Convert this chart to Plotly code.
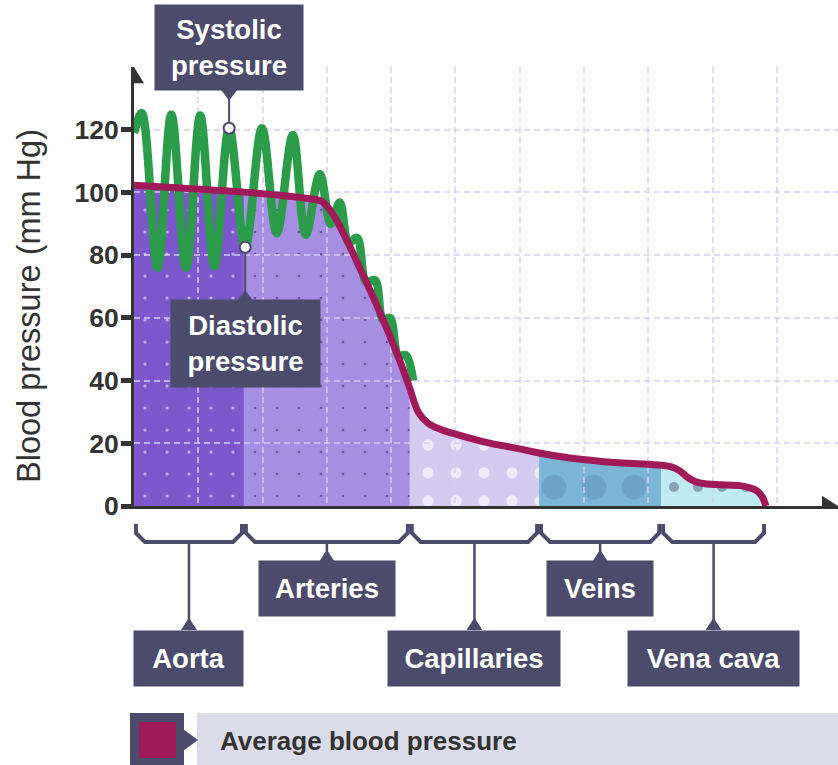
import plotly.graph_objects as go

W = 838
REF_H = 765          # layout is laid out on a 765 px tall grid
H = 780              # figure height
SY = H / REF_H       # vertical pixel scale for pixel-sized items
FONT = "Liberation Sans, Arial, Helvetica, sans-serif"
INK = "#333333"
BOX = "#4d4b6c"
GRID = "rgba(212,205,242,0.75)"

# ---- data -------------------------------------------------------------
y_ticks = [0, 20, 40, 60, 80, 100, 120]
x_grid = [1, 2, 3, 4, 5, 6, 7, 8, 9, 10]
x_max = 10.95
y_max = 140

# average blood pressure (mm Hg) along the circulation, x in grid units
avg_x = [0.00, 0.72, 1.71, 2.27, 2.74, 2.92, 3.08, 3.28, 3.51, 3.83, 4.14, 4.29,
         4.42, 4.57, 4.76, 4.99, 5.38, 5.69, 6.00, 6.30, 6.78, 7.24, 7.71, 8.20,
         8.37, 8.49, 8.62, 8.74, 8.88, 9.11, 9.42, 9.58, 9.69, 9.77, 9.83]
avg_y = [102.3, 101.4, 100.1, 99.1, 98.0, 97.2, 93.5, 86.0, 76.0, 61.5, 46.0, 37.5,
         30.0, 26.5, 24.5, 23.0, 20.8, 19.4, 18.2, 16.9, 15.3, 14.3, 13.6, 13.0,
         12.4, 11.2, 9.0, 7.7, 7.1, 6.8, 6.5, 5.8, 4.8, 3.0, 0.0]

# pulsing pressure: alternating systolic peaks and diastolic troughs
pulse_x = [0.00, 0.12, 0.365, 0.58, 0.81, 1.03, 1.25, 1.48, 1.73, 1.99, 2.22, 2.47,
           2.67, 2.89, 3.06, 3.20, 3.34, 3.47, 3.61, 3.75, 3.87, 3.98, 4.11, 4.23, 4.34]
pulse_y = [119.0, 125.3, 76.0, 124.8, 76.0, 124.5, 76.5, 120.5, 82.5, 120.5, 87.0, 118.3,
           86.5, 105.8, 90.0, 96.8, 84.0, 85.5, 71.5, 72.0, 59.5, 60.0, 48.0, 48.0, 40.0]
SYS, DIA = 7, 8  # points picked out as systolic / diastolic pressure

regions = ["Aorta", "Arteries", "Capillaries", "Veins", "Vena cava"]
region_edges = [0.00, 1.71, 4.29, 6.30, 8.20, 9.83]
label_row = [1, 0, 1, 0, 1]          # 0 = upper row of labels, 1 = lower row
label_width = [109, 136, 172, 106, 171]

region_style = {
    "Aorta":       dict(bg="#7c58cc", fg="#e2d8fb", op=0.7, size=22, sol=0.016),
    "Arteries":    dict(bg="#a68ee2", fg="#45366f", op=0.65, size=22, sol=0.012),
    "Capillaries": dict(bg="#d5cbf1", fg="#eeeafc", op=1.0, size=28, sol=0.13),
    "Veins":       dict(bg="#7cb6d6", fg="#6da3c6", op=1.0, size=40, sol=0.30),
    "Vena cava":   dict(bg="#bfeaf4", fg="#7f9db3", op=0.9, size=24, sol=0.14),
}


def pxx(px):
    return px / W


def pxy(py):
    return 1 - py / REF_H


x_dom = [pxx(134), 1.0]
y_dom = [pxy(506), pxy(67)]

fig = go.Figure()

# ---- filled vessel regions under the average pressure line --------------
for k, name in enumerate(regions):
    lo, hi = region_edges[k], region_edges[k + 1]
    pts = [(x, y) for x, y in zip(avg_x, avg_y) if lo - 1e-9 <= x <= hi + 1e-9]
    st = region_style[name]
    fig.add_trace(go.Scatter(
        x=[p[0] for p in pts], y=[p[1] for p in pts],
        mode="none", fill="tozeroy", line=dict(shape="spline", smoothing=1),
        fillcolor=st["bg"],
        fillpattern=dict(shape=".", bgcolor=st["bg"], fgcolor=st["fg"],
                         fgopacity=st["op"], size=st["size"], solidity=st["sol"],
                         fillmode="replace"),
        xaxis="x", yaxis="y", hoverinfo="skip", name=name))

# ---- pressure curves (second, overlapping subplot so the grid sits above the fills)
fig.add_trace(go.Scatter(
    x=pulse_x, y=pulse_y, mode="lines",
    line=dict(color="#2b9c49", width=8.5, shape="spline", smoothing=1),
    xaxis="x2", yaxis="y2", hoverinfo="skip", name="Pulse"))
fig.add_trace(go.Scatter(
    x=avg_x, y=avg_y, mode="lines",
    line=dict(color="#a01a5a", width=7, shape="spline", smoothing=1),
    xaxis="x2", yaxis="y2", hoverinfo="skip", name="Average blood pressure"))
fig.add_trace(go.Scatter(
    x=[pulse_x[SYS], pulse_x[DIA]], y=[pulse_y[SYS], pulse_y[DIA]], mode="markers",
    marker=dict(size=11, color="white", line=dict(color=BOX, width=2)),
    xaxis="x2", yaxis="y2", hoverinfo="skip"))

shapes = []
annotations = []
LABEL_FONT = dict(family=FONT, size=27.5, color="white", weight="bold")

# axis arrowheads
shapes.append(dict(type="path", xref="x2", yref="y2", xsizemode="pixel", ysizemode="pixel",
                   xanchor=0, yanchor=y_max, path=f"M -10,{-16 * SY} L 10,{-16 * SY} L 0,0 Z",
                   fillcolor=INK, line=dict(width=0), layer="above"))
shapes.append(dict(type="path", xref="x2", yref="y2", xsizemode="pixel", ysizemode="pixel",
                   xanchor=x_max, yanchor=0, path=f"M -16,{-10 * SY} L -16,{10 * SY} L 0,0 Z",
                   fillcolor=INK, line=dict(width=0), layer="above"))

# systolic / diastolic call-outs
annotations.append(dict(
    x=pulse_x[SYS], y=pulse_y[SYS], xref="x2", yref="y2",
    text="Systolic<br>pressure", showarrow=True, arrowhead=0, arrowwidth=2,
    arrowcolor=BOX, ax=0, ay=-79 * SY, standoff=6, width=148, height=83 * SY,
    bgcolor=BOX, borderpad=0, font=LABEL_FONT))
shapes.append(dict(type="path", xref="x2", yref="y2", xsizemode="pixel", ysizemode="pixel",
                   xanchor=pulse_x[SYS], yanchor=pulse_y[SYS],
                   path=f"M -8,{37.5 * SY} L 8,{37.5 * SY} L 0,{27 * SY} Z",
                   fillcolor=BOX, line=dict(width=0), layer="above"))
annotations.append(dict(
    x=pulse_x[DIA], y=pulse_y[DIA], xref="x2", yref="y2",
    text="Diastolic<br>pressure", showarrow=True, arrowhead=0, arrowwidth=2,
    arrowcolor=BOX, ax=0, ay=94 * SY, standoff=6, width=149, height=85 * SY,
    bgcolor=BOX, borderpad=0, font=LABEL_FONT))
shapes.append(dict(type="path", xref="x2", yref="y2", xsizemode="pixel", ysizemode="pixel",
                   xanchor=pulse_x[DIA], yanchor=pulse_y[DIA],
                   path=f"M -8,{-52.5 * SY} L 8,{-52.5 * SY} L 0,{-42 * SY} Z",
                   fillcolor=BOX, line=dict(width=0), layer="above"))

# brackets and labels for each vessel
b_top, b_mid, b_bot = pxy(524), pxy(533), pxy(542)
chamfer = 0.14
for k, name in enumerate(regions):
    x0 = region_edges[k] + 0.03
    x1 = region_edges[k + 1] - 0.03
    xc = (region_edges[k] + region_edges[k + 1]) / 2
    shapes.append(dict(
        type="path", xref="x2", yref="paper",
        path=(f"M {x0},{b_top} L {x0},{b_mid} L {x0 + chamfer},{b_bot} "
              f"L {x1 - chamfer},{b_bot} L {x1},{b_mid} L {x1},{b_top}"),
        line=dict(color=BOX, width=4), layer="above"))
    box_top = 561 if label_row[k] == 0 else 629
    box_mid = box_top + 27
    annotations.append(dict(
        x=xc, y=b_bot, xref="x2", yref="paper", text=name,
        showarrow=True, arrowhead=0, arrowwidth=2.5, arrowcolor=BOX,
        ax=0, ay=(box_mid - 542) * SY, width=label_width[k], height=54 * SY,
        bgcolor=BOX, borderpad=0, font=LABEL_FONT))
    shapes.append(dict(type="path", xref="x2", yref="paper", xsizemode="pixel",
                       ysizemode="pixel", xanchor=xc, yanchor=pxy(box_top),
                       path=f"M -8,-1 L 8,-1 L 0,{11 * SY} Z", fillcolor=BOX,
                       line=dict(width=0), layer="above"))

# y-axis title
annotations.append(dict(
    x=pxx(29), y=pxy(306), xref="paper", yref="paper", text="Blood pressure (mm Hg)",
    textangle=-90, showarrow=False, xanchor="center", yanchor="middle",
    font=dict(family=FONT, size=32.5, color=INK)))

# key for the average pressure line
shapes.append(dict(type="rect", xref="paper", yref="paper", x0=pxx(197), x1=1.0,
                   y0=pxy(765), y1=pxy(713), fillcolor="#dcdbe9", line=dict(width=0),
                   layer="above"))
shapes.append(dict(type="rect", xref="paper", yref="paper", x0=pxx(130), x1=pxx(184),
                   y0=pxy(765), y1=pxy(713), fillcolor=BOX, line=dict(width=0),
                   layer="above"))
shapes.append(dict(type="path", xref="paper", yref="paper",
                   path=f"M {pxx(183)},{pxy(729)} L {pxx(198)},{pxy(740)} L {pxx(183)},{pxy(751)} Z",
                   fillcolor=BOX, line=dict(width=0), layer="above"))
shapes.append(dict(type="rect", xref="paper", yref="paper", x0=pxx(139), x1=pxx(176),
                   y0=pxy(758), y1=pxy(722), fillcolor="#a01a5a", line=dict(width=0),
                   layer="above"))
annotations.append(dict(
    x=pxx(218), y=pxy(741), xref="paper", yref="paper", text="Average blood pressure",
    showarrow=False, xanchor="left", yanchor="middle",
    font=dict(family=FONT, size=26, color=INK, weight="bold")))

fig.update_layout(
    width=W, height=H, margin=dict(l=0, r=0, t=0, b=0), autosize=False,
    paper_bgcolor="white", plot_bgcolor="rgba(0,0,0,0)", showlegend=False,
    font=dict(family=FONT, color=INK),
    xaxis=dict(domain=x_dom, range=[0, x_max], visible=False, fixedrange=True),
    yaxis=dict(domain=y_dom, range=[0, y_max], visible=False, fixedrange=True),
    xaxis2=dict(domain=x_dom, range=[0, x_max], anchor="y2", tickvals=x_grid,
                showticklabels=False, ticks="", showgrid=True, gridcolor=GRID,
                griddash="6px,4px", gridwidth=1.5, showline=True, linecolor=INK,
                linewidth=3, zeroline=False, fixedrange=True),
    yaxis2=dict(domain=y_dom, range=[0, y_max], anchor="x2", tickvals=y_ticks,
                ticks="outside", ticklen=10, tickwidth=5, tickcolor=INK,
                tickfont=dict(family=FONT, size=26.5, color=INK, weight="bold"),
                ticklabelstandoff=-3,
                showgrid=True, gridcolor=GRID, griddash="6px,4px", gridwidth=1.5,
                showline=True, linecolor=INK, linewidth=3, zeroline=False,
                fixedrange=True),
    shapes=shapes, annotations=annotations,
)

fig.write_html("out.html")
